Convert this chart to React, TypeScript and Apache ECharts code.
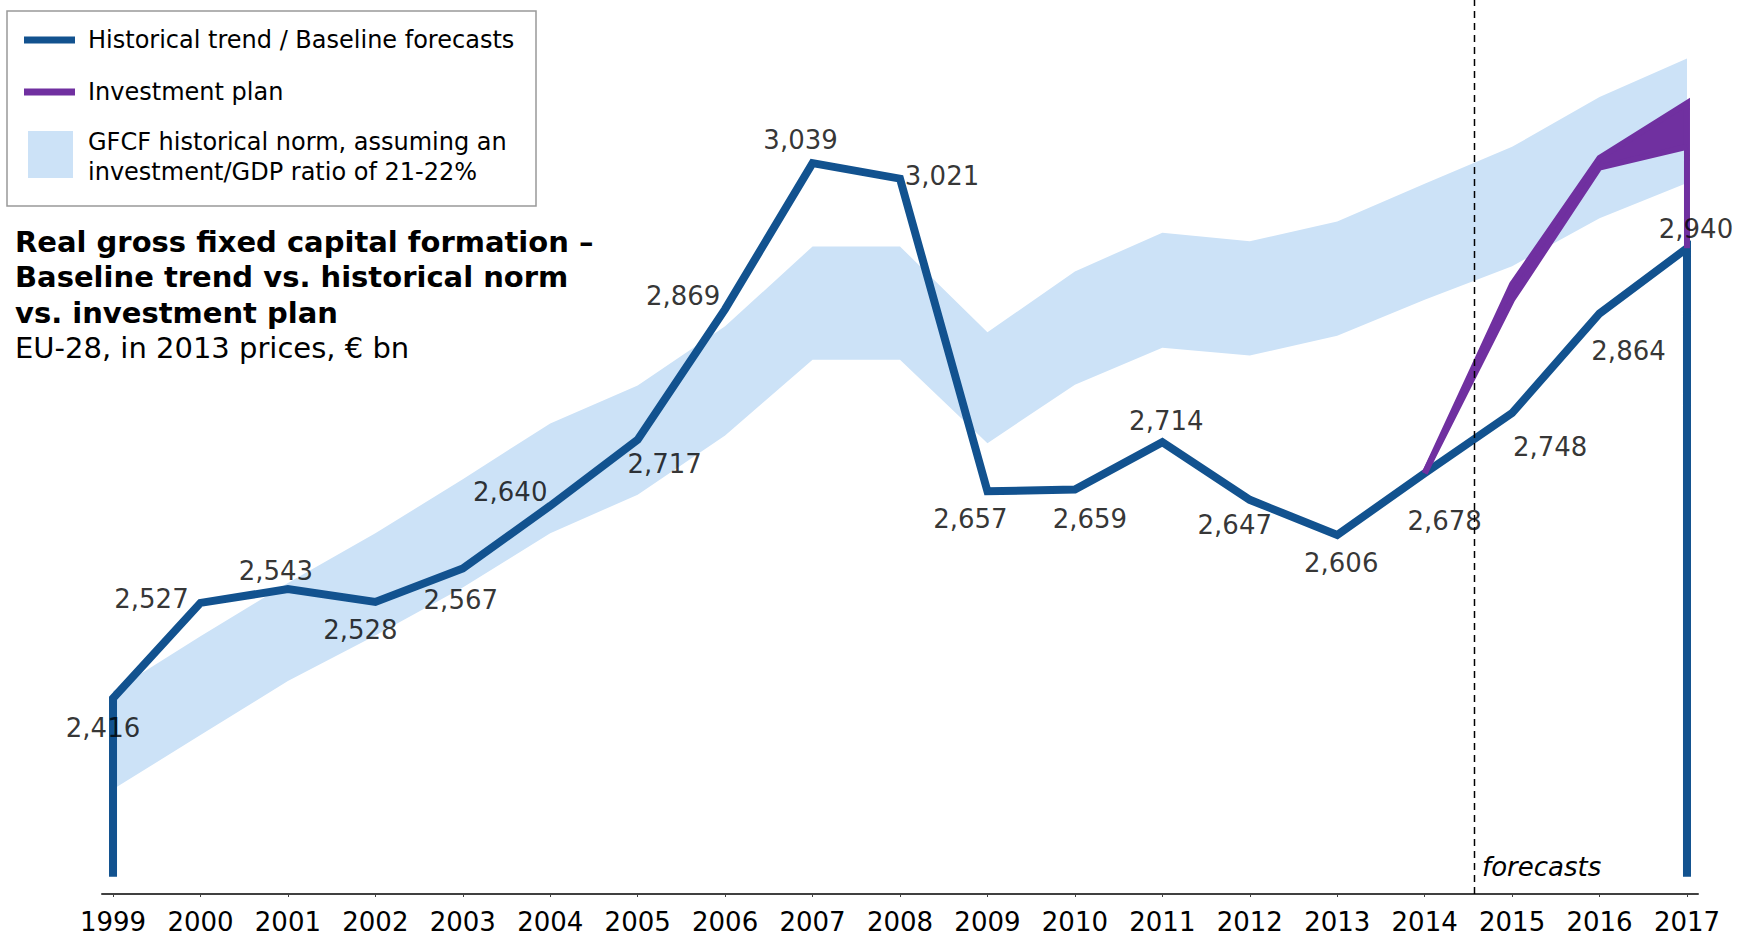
import React, { useEffect, useRef } from "react";
import * as echarts from "echarts";

const years = [1999, 2000, 2001, 2002, 2003, 2004, 2005, 2006, 2007, 2008, 2009, 2010, 2011, 2012, 2013, 2014, 2015, 2016, 2017];
const baseline = [2416, 2527, 2543, 2528, 2567, 2640, 2717, 2869, 3039, 3021, 2657, 2659, 2714, 2647, 2606, 2678, 2748, 2864, 2940];
const normHigh = [2424, 2488, 2550, 2608, 2671, 2736, 2780, 2849, 2942, 2942, 2842, 2913, 2958, 2948, 2971, 3015, 3058, 3116, 3161];
const normLow = [2310, 2373, 2436, 2489, 2545, 2608, 2653, 2722, 2810, 2810, 2713, 2781, 2824, 2815, 2838, 2880, 2919, 2975, 3016];
const planYears = [2014, 2015, 2016, 2017];
const planHigh = [2678, 2898, 3045, 3109];
const planLow = [2678, 2880, 3034, 3058];
const dropBase = 2208;
const forecastStart = 2014.57;
const yMin = 2188;
const yMax = 3229;

const labelOffsets = [
  [-10, 30], [-49, -4], [-12, -18], [-15, 28], [-2, 31], [-40, -14], [27, 24], [-42, -13], [-12, -23], [42, -3],
  [-17, 28], [15, 29], [4, -21], [-15, 25], [4, 28], [20, 48], [38, 34], [29, 38], [9, -19],
];

const BLUE = "#12528f";
const PURPLE = "#7030a0";
const BAND = "#cce2f7";
const FONT = "'DejaVu Sans', Verdana, sans-serif";

function bandSeries(xs: number[], hi: number[], lo: number[], color: string, z: number) {
  return {
    type: "custom",
    data: [[xs[0], hi[0]]],
    clip: false,
    silent: true,
    z,
    renderItem: (params: any, api: any) => {
      const pts: number[][] = [];
      for (let i = 0; i < xs.length; i++) pts.push(api.coord([xs[i], hi[i]]));
      for (let i = xs.length - 1; i >= 0; i--) pts.push(api.coord([xs[i], lo[i]]));
      return { type: "polygon", shape: { points: pts }, style: { fill: color } };
    },
  };
}

export default function App() {
  const ref = useRef<HTMLDivElement>(null);
  useEffect(() => {
    const chart = echarts.init(ref.current!, null, { renderer: "svg" });
    const fmt = (v: number) => v.toLocaleString("en-US");
    const option: any = {
      animation: false,
      backgroundColor: "#fff",
      grid: { left: 102, right: 39, top: 0, bottom: 42, containLabel: false },
      xAxis: {
        type: "value",
        min: 1998.874,
        max: 2017.126,
        splitLine: { show: false },
        axisLine: { show: true, lineStyle: { color: "#404040", width: 2 } },
        axisTick: { show: true, customValues: years, length: 3, lineStyle: { color: "#404040", width: 1 } },
        axisLabel: {
          customValues: years,
          formatter: (v: number) => String(Math.round(v)),
          fontSize: 26,
          color: "#000",
          fontFamily: FONT,
          margin: 15,
        },
      },
      yAxis: {
        type: "value",
        min: yMin,
        max: yMax,
        show: false,
        splitLine: { show: false },
      },
      series: [
        bandSeries(years, normHigh, normLow, BAND, 1),
        bandSeries(planYears, planHigh, planLow, PURPLE, 4),
        {
          type: "line",
          name: "Historical trend / Baseline forecasts",
          z: 3,
          symbol: "none",
          lineStyle: { color: BLUE, width: 8, cap: "butt", join: "miter" },
          data: [[years[0], dropBase], ...years.map((y, i) => [y, baseline[i]]), [years[years.length - 1], dropBase]],
        },
        {
          type: "line",
          name: "Investment plan high",
          z: 4,
          symbol: "none",
          lineStyle: { color: PURPLE, width: 6, join: "miter" },
          data: [...planYears.map((y, i) => [y, planHigh[i]]), [2017, baseline[baseline.length - 1]]],
        },
        {
          type: "line",
          name: "Investment plan low",
          z: 4,
          symbol: "none",
          lineStyle: { color: PURPLE, width: 6, join: "miter" },
          data: planYears.map((y, i) => [y, planLow[i]]),
        },
        {
          type: "scatter",
          z: 5,
          symbolSize: 1,
          itemStyle: { color: "rgba(0,0,0,0)" },
          silent: true,
          label: {
            show: true,
            position: "inside",
            color: "#000",
            fontSize: 26,
            fontFamily: FONT,
            formatter: (p: any) => fmt(p.value[1]),
          },
          data: years.map((y, i) => ({ value: [y, baseline[i]], label: { offset: labelOffsets[i] } })),
        },
        {
          type: "line",
          z: 6,
          symbol: "none",
          silent: true,
          lineStyle: { color: "#000", width: 1.5, type: [7, 5] },
          data: [[forecastStart, yMin], [forecastStart, yMax]],
        },
      ],
      graphic: [
        { type: "rect", shape: { x: 7, y: 11, width: 529, height: 195 }, style: { fill: "#fff", stroke: "#999", lineWidth: 1.5 }, z: 10 },
        { type: "rect", shape: { x: 24, y: 36.5, width: 51, height: 7 }, style: { fill: BLUE }, z: 11 },
        { type: "text", x: 88, y: 40, style: { text: "Historical trend / Baseline forecasts", fontSize: 24, fontFamily: FONT, fill: "#000", verticalAlign: "middle" }, z: 11 },
        { type: "rect", shape: { x: 24, y: 88.5, width: 51, height: 7 }, style: { fill: PURPLE }, z: 11 },
        { type: "text", x: 88, y: 92, style: { text: "Investment plan", fontSize: 24, fontFamily: FONT, fill: "#000", verticalAlign: "middle" }, z: 11 },
        { type: "rect", shape: { x: 28, y: 131, width: 45, height: 47 }, style: { fill: BAND }, z: 11 },
        { type: "text", x: 88, y: 142, style: { text: "GFCF historical norm, assuming an", fontSize: 24, fontFamily: FONT, fill: "#000", verticalAlign: "middle" }, z: 11 },
        { type: "text", x: 88, y: 172, style: { text: "investment/GDP ratio of 21-22%", fontSize: 24, fontFamily: FONT, fill: "#000", verticalAlign: "middle" }, z: 11 },
        { type: "text", x: 15, y: 241.5, style: { text: "Real gross fixed capital formation –", fontSize: 29, fontWeight: "bold", fontFamily: FONT, fill: "#000", verticalAlign: "middle" }, z: 11 },
        { type: "text", x: 15, y: 277, style: { text: "Baseline trend vs. historical norm", fontSize: 29, fontWeight: "bold", fontFamily: FONT, fill: "#000", verticalAlign: "middle" }, z: 11 },
        { type: "text", x: 15, y: 312.5, style: { text: "vs. investment plan", fontSize: 29, fontWeight: "bold", fontFamily: FONT, fill: "#000", verticalAlign: "middle" }, z: 11 },
        { type: "text", x: 15, y: 348, style: { text: "EU-28, in 2013 prices, € bn", fontSize: 29, fontFamily: FONT, fill: "#000", verticalAlign: "middle" }, z: 11 },
        { type: "text", x: 1482, y: 867, style: { text: "forecasts", fontSize: 26, fontStyle: "italic", fontFamily: FONT, fill: "#000", verticalAlign: "middle" }, z: 11 },
      ],
    };
    chart.setOption(option);
    return () => chart.dispose();
  }, []);
  return <div ref={ref} style={{ position: "fixed", left: 0, top: 0, width: 1737, height: 936 }} />;
}
